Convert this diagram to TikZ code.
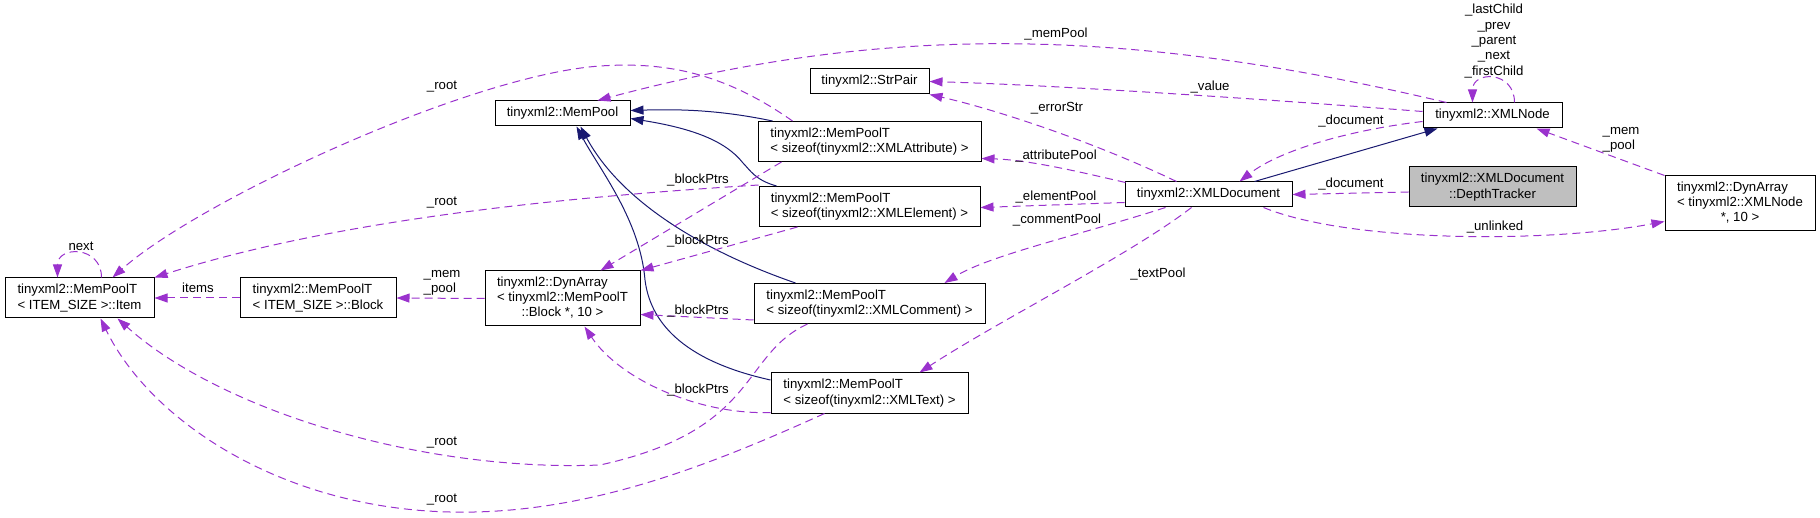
\documentclass[tikz,border=0pt]{standalone}
\usepackage{fontspec}
\usetikzlibrary{arrows.meta,calc}
\newfontfamily\dxfont{Liberation Sans}
\newcommand\classfont{\dxfont\fontsize{13.2}{15.3}\selectfont}
\definecolor{usecol}{HTML}{9A32CD}
\definecolor{inhcol}{HTML}{191970}
\definecolor{trackfill}{HTML}{BFBFBF}
\tikzset{
  cls/.style={draw=black, fill=white, line width=1pt, inner sep=0pt,
              font=\classfont, align=left},
  trackcls/.style={cls, fill=trackfill, align=center},
  uses/.style={draw=usecol, line width=1pt, dash pattern=on 8pt off 5pt,
               -{Triangle[length=13pt, width=9pt, fill=usecol]}},
  inherits/.style={draw=inhcol, line width=1pt,
                   -{Triangle[length=13pt, width=9pt, fill=inhcol]}},
  lbl/.style={font=\classfont, inner sep=0pt, align=center},
}

\begin{document}
\begin{tikzpicture}[x=1pt, y=-1pt]
    \useasboundingbox (0,0) rectangle (1820,518);
    % classes
    \node[cls, minimum width=149, minimum height=40] (item) at (79.5,298) {tinyxml2::MemPoolT\\< ITEM\_SIZE >::Item};
    \node[cls, minimum width=156, minimum height=40] (block) at (318,298) {tinyxml2::MemPoolT\\< ITEM\_SIZE >::Block};
    \node[cls, minimum width=155, minimum height=55] (dynblock) at (562.5,298.5) {\begin{tabular}{@{}l@{}}tinyxml2::DynArray\\< tinyxml2::MemPoolT\\\multicolumn{1}{@{}c@{}}{::Block *, 10 >}\end{tabular}};
    \node[cls, minimum width=135, minimum height=25] (mempool) at (562.5,113.5) {tinyxml2::MemPool};
    \node[cls, minimum width=119, minimum height=25] (strpair) at (869.5,81.5) {tinyxml2::StrPair};
    \node[cls, minimum width=223, minimum height=40] (attr) at (869.5,141.5) {tinyxml2::MemPoolT\\< sizeof(tinyxml2::XMLAttribute) >};
    \node[cls, minimum width=221, minimum height=40] (elem) at (869.5,206.5) {tinyxml2::MemPoolT\\< sizeof(tinyxml2::XMLElement) >};
    \node[cls, minimum width=231, minimum height=40] (comment) at (869.5,303.5) {tinyxml2::MemPoolT\\< sizeof(tinyxml2::XMLComment) >};
    \node[cls, minimum width=197, minimum height=40] (text) at (869.5,393) {tinyxml2::MemPoolT\\< sizeof(tinyxml2::XMLText) >};
    \node[cls, minimum width=167, minimum height=25] (xmldoc) at (1208.5,194.5) {tinyxml2::XMLDocument};
    \node[cls, minimum width=139, minimum height=25] (xmlnode) at (1492.5,115.5) {tinyxml2::XMLNode};
    \node[trackcls, minimum width=167, minimum height=40] (tracker) at (1492.5,187) {tinyxml2::XMLDocument\\::DepthTracker};
    \node[cls, minimum width=150, minimum height=55] (dynnode) at (1740,203.5) {\begin{tabular}{@{}l@{}}tinyxml2::DynArray\\< tinyxml2::XMLNode\\\multicolumn{1}{@{}c@{}}{*, 10 >}\end{tabular}};

    % inheritance
    \draw[inherits] ($(attr.north west)+(15,0)$) .. controls (720,110) and (680,109) .. ($(mempool.east)+(0,-3)$);
    \draw[inherits] ($(elem.north west)+(18,0)$) .. controls (755,180) and (750,170) .. (743,163) .. controls (725,140) and (690,128) .. ($(mempool.east)+(0,5)$);
    \draw[inherits] ($(comment.north)+(-74,0)$) .. controls (700,250) and (620,200) .. ($(mempool.south)+(18,0)$);
    \draw[inherits] ($(text.west)+(0,-13)$) .. controls (680,360) and (650,320) .. (645,280) .. controls (640,220) and (600,170) .. ($(mempool.south)+(14,0)$);
    \draw[inherits] ($(xmldoc.north)+(46,0)$) -- ($(xmlnode.south)+(-55,0)$);

    % members
    \draw[uses] ($(item.north)+(22,0)$) .. controls +(0,-32) and +(0,-32) .. ($(item.north)+(-22,0)$);
    \node[lbl] (lnext) at (81,246) {next};
    \draw[uses] (block.west) -- (item.east);
    \node[lbl] (litems) at (198,288) {items};
    \draw[uses] (dynblock.west) -- (block.east);
    \node[lbl, align=left] (lmemb) at (442,283) {\_mem\\\_pool};

    \draw[uses] ($(attr.north)+(-77,0)$) .. controls (720,70) and (660,62) .. (600,66) .. controls (470,75) and (200,200) .. ($(item.north)+(33,0)$);
    \node[lbl] (lroota) at (442,87) {\_root};
    \draw[uses] ($(elem.north west)+(0,-1)$) .. controls (600,195) and (350,215) .. (item.north east);
    \node[lbl] (lroote) at (442,203) {\_root};
    \draw[uses] ($(comment.south)+(-62,0)$) .. controls (740,355) and (760,430) .. (600,465) .. controls (420,472) and (220,410) .. ($(item.south)+(38,0)$);
    \node[lbl] (lrootc) at (442,443) {\_root};
    \draw[uses] ($(text.south)+(-45,0)$) .. controls (700,470) and (580,515) .. (450,512) .. controls (280,508) and (150,420) .. ($(item.south)+(21,0)$);
    \node[lbl] (lroott) at (442,500) {\_root};

    \draw[uses] ($(attr.south)+(-88,0)$) -- ($(dynblock.north)+(38,0)$);
    \node[lbl] (lbpa) at (698,180) {\_blockPtrs};
    \draw[uses] ($(elem.south)+(-72,0)$) -- (dynblock.north east);
    \node[lbl] (lbpe) at (698,241) {\_blockPtrs};
    \draw[uses] ($(comment.south west)+(0,-4)$) -- ($(dynblock.east)+(0,16)$);
    \node[lbl] (lbpc) at (698,311) {\_blockPtrs};
    \draw[uses] ($(text.south west)+(0,-1)$) .. controls (700,415) and (620,380) .. ($(dynblock.south)+(22,0)$);
    \node[lbl] (lbpt) at (698,390) {\_blockPtrs};

    \draw[uses] ($(xmlnode.north)+(-46,0)$) .. controls (1120,25) and (880,25) .. ($(mempool.north)+(35,0)$);
    \node[lbl] (lmempool) at (1056,34) {\_memPool};
    \draw[uses] ($(xmlnode.west)+(0,-4)$) .. controls (1250,98) and (1050,85) .. (strpair.east);
    \node[lbl] (lvalue) at (1210,87) {\_value};
    \draw[uses] ($(xmldoc.north)+(-32,0)$) .. controls (1090,140) and (990,108) .. (strpair.south east);
    \node[lbl] (lerror) at (1057,108) {\_errorStr};
    \draw[uses] ($(xmlnode.north)+(22,0)$) .. controls +(0,-32) and +(0,-32) .. ($(xmlnode.north)+(-20,0)$);
    \node[lbl] (lchild) at (1494,41) {\_lastChild\\\_prev\\\_parent\\\_next\\\_firstChild};
    \draw[uses] ($(xmlnode.west)+(0,6)$) .. controls (1350,130) and (1280,150) .. ($(xmldoc.north)+(31,0)$);
    \node[lbl] (ldocn) at (1351,121) {\_document};
    \draw[uses] ($(tracker.west)+(0,5)$) -- (xmldoc.east);
    \node[lbl] (ldoct) at (1351,184) {\_document};
    \draw[uses] ($(xmldoc.south)+(55,0)$) .. controls (1350,243) and (1550,243) .. ($(dynnode.west)+(0,18)$);
    \node[lbl] (lunlinked) at (1495,227) {\_unlinked};
    \draw[uses] (dynnode.north west) -- ($(xmlnode.south)+(44,0)$);
    \node[lbl, align=left] (lmemn) at (1621,140) {\_mem\\\_pool};

    \draw[uses] ($(xmldoc.north west)+(1,1)$) .. controls (1080,172) and (1030,160) .. ($(attr.east)+(0,17)$);
    \node[lbl] (lattr) at (1056,156) {\_attributePool};
    \draw[uses] ($(xmldoc.west)+(0,8)$) -- ($(elem.east)+(0,1)$);
    \node[lbl] (lelem) at (1056,197) {\_elementPool};
    \draw[uses] ($(xmldoc.south)+(-43,0)$) .. controls (1080,235) and (990,255) .. ($(comment.north)+(75,0)$);
    \node[lbl] (lcomm) at (1057,220) {\_commentPool};
    \draw[uses] ($(xmldoc.south)+(-17,0)$) .. controls (1130,255) and (1000,320) .. ($(text.north)+(50,0)$);
    \node[lbl] (ltext) at (1158,274) {\_textPool};
\end{tikzpicture}
\end{document}
